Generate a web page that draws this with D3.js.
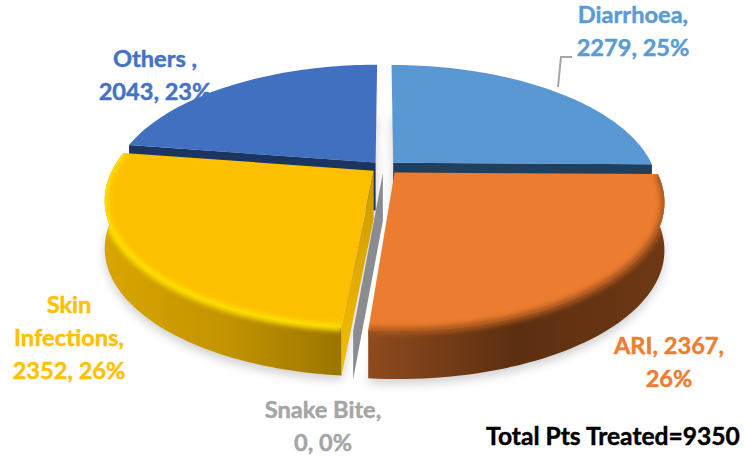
<!DOCTYPE html>
<html>
<head>
<meta charset="utf-8">
<script src="https://cdn.jsdelivr.net/npm/d3@7"></script>
<style>
html, body { margin: 0; padding: 0; background: #fff; }
svg { display: block; }
text { font-family: Lato, "Open Sans", sans-serif; font-weight: 700; stroke-width: 0.45; }
</style>
</head>
<body>
<svg></svg>
<script>
// chart data
var categories = ["Diarrhoea", "ARI", "Snake Bite", "Skin Infections", "Others"];
var values = [2279, 2367, 0, 2352, 2043];
var total = 9350;

// colours, one per category
var faceColors = ["#5A98D4", "#EB7C30", "#A5A5A5", "#FDC000", "#4070BF"];
var labelColors = ["#5B9BD5", "#ED7D31", "#A5A5A5", "#FFC000", "#4472C4"];
var wallColors = ["#1F3F5F", "#7A3E18", "#8A8C90", "#D9A400", "#1C3460"];
var sideStops = [
    ["#2a5478", "#2a5478"],
    ["#8F4A1E", "#5C2F10", "#6E3815"],
    ["#888", "#888"],
    ["#D8A500", "#C49400", "#9A7500"],
    ["#1C3460", "#1C3460"]
];
var bevelColors = [null, "#A9561F", null, "#FFE000", null];
var explode = [0.05, 0.06, 0.05, 0.05, 0.05];

// how the labels break into lines
var labelLines = [
    ["Diarrhoea,", "2279, 25%"],
    ["ARI, 2367,", "26%"],
    ["Snake Bite,", "0, 0%"],
    ["Skin", "Infections,", "2352, 26%"],
    ["Others ,", "2043, 23%"]
];
var labelPos = [[633, 23], [669, 354], [323, 418], [69, 313], [155, 67]];

var width = 744,
    height = 458,
    lineGap = 33,
    depth = 48,
    tilt = 0.22; // near edge is drawn bigger than the far edge

var svg = d3.select("svg")
    .attr("width", width)
    .attr("height", height);

var defs = svg.append("defs");
defs.append("filter").attr("id", "shadow")
    .attr("x", "-10%").attr("y", "-10%").attr("width", "120%").attr("height", "120%")
    .append("feGaussianBlur").attr("stdDeviation", 5);
defs.append("filter").attr("id", "soft")
    .attr("x", "-10%").attr("y", "-10%").attr("width", "120%").attr("height", "120%")
    .append("feGaussianBlur").attr("stdDeviation", 2.4);

var xScale = d3.scaleLinear().domain([-1, 1]).range([384 - 260, 384 + 260]);
var yScale = d3.scaleLinear().domain([-1, 1]).range([167 + 121, 167 - 121]);

// disc coordinates to screen, with a bit of perspective
function project(u, v, drop) {
    var s = 1 / (1 + tilt * v);
    return [xScale(u * s), yScale(v * s) + (drop || 0)];
}

var pie = d3.pie().sort(null).value(function(d) { return d; });
var slices = pie(values).map(function(d, i) {
    var mid = (d.startAngle + d.endAngle) / 2;
    d.i = i;
    d.ou = explode[i] * Math.sin(mid);
    d.ov = explode[i] * Math.cos(mid);
    return d;
});

function rimPoint(d, a, drop) {
    return project(d.ou + Math.sin(a), d.ov + Math.cos(a), drop);
}
function apex(d, drop) {
    return project(d.ou, d.ov, drop);
}
function arcPoints(d, drop) {
    return d3.range(0, 61).map(function(k) {
        return rimPoint(d, d.startAngle + (d.endAngle - d.startAngle) * k / 60, drop);
    });
}

var closedLine = d3.line().curve(d3.curveLinearClosed);
var openLine = d3.line();

function facePath(d, drop) {
    return closedLine([apex(d, drop)].concat(arcPoints(d, drop)));
}
function sidePath(d) {
    return closedLine(arcPoints(d, 0).concat(arcPoints(d, depth).reverse()));
}
function wallPath(d, a) {
    return closedLine([apex(d, 0), rimPoint(d, a, 0), rimPoint(d, a, depth), apex(d, depth)]);
}

// soft ground shadow
svg.append("g").attr("filter", "url(#shadow)").attr("opacity", 0.33)
    .selectAll("path")
    .data(slices.filter(function(d) { return d.value > 0; }))
    .enter().append("path")
    .attr("d", function(d) { return facePath(d, depth + 5); })
    .attr("fill", "#777");

// side gradients
slices.forEach(function(d) {
    var g = defs.append("linearGradient").attr("id", "side" + d.i);
    sideStops[d.i].forEach(function(c, k, all) {
        g.append("stop").attr("offset", k / (all.length - 1)).attr("stop-color", c);
    });
    defs.append("clipPath").attr("id", "clip" + d.i)
        .selectAll("path")
        .data([facePath(d, 0), sidePath(d)])
        .enter().append("path").attr("d", function(p) { return p; });
});
var wallGrad = defs.append("linearGradient").attr("id", "yellowWall")
    .attr("x1", 0).attr("y1", 0).attr("x2", 0).attr("y2", 1);
wallGrad.append("stop").attr("offset", 0).attr("stop-color", "#C99A00");
wallGrad.append("stop").attr("offset", 1).attr("stop-color", "#F7BD00");

// far slices first, the near ones paint over them
var order = [0, 4, 2, 3, 1];
var groups = svg.selectAll("g.slice")
    .data(order.map(function(i) { return slices[i]; }))
    .enter().append("g").attr("class", "slice");

// only the two front slices show their outer side
groups.filter(function(d) { return bevelColors[d.i]; }).append("path")
    .attr("d", sidePath)
    .attr("fill", function(d) { return "url(#side" + d.i + ")"; });

groups.append("path")
    .attr("d", function(d) {
        // the cut face that looks at the viewer
        return wallPath(d, d.i === 0 ? d.endAngle : d.startAngle);
    })
    .attr("fill", function(d) { return d.i === 3 ? "url(#yellowWall)" : wallColors[d.i]; });

groups.filter(function(d) { return d.value > 0; }).append("path")
    .attr("d", function(d) { return facePath(d, 0); })
    .attr("fill", function(d) { return faceColors[d.i]; });

// rounded rim on the two front slices
groups.filter(function(d) { return bevelColors[d.i]; }).append("g")
    .attr("clip-path", function(d) { return "url(#clip" + d.i + ")"; })
    .append("path")
    .attr("d", function(d) { return openLine(arcPoints(d, 0)); })
    .attr("fill", "none")
    .attr("stroke", function(d) { return bevelColors[d.i]; })
    .attr("stroke-width", 7)
    .attr("filter", "url(#soft)");

// leader line of the Diarrhoea label
svg.append("path")
    .attr("d", openLine([[558, 87], [561, 57], [572, 57]]))
    .attr("fill", "none")
    .attr("stroke", "#A6A6A6")
    .attr("stroke-width", 2);

// data labels
var labels = svg.selectAll("text.label")
    .data(categories)
    .enter().append("text")
    .attr("class", "label")
    .attr("text-anchor", "middle")
    .attr("font-size", 23.6)
    .attr("fill", function(d, i) { return labelColors[i]; })
    .attr("stroke", function(d, i) { return labelColors[i]; });

labels.selectAll("tspan")
    .data(function(d, i) {
        return labelLines[i].map(function(t, k) { return {t: t, k: k, i: i}; });
    })
    .enter().append("tspan")
    .attr("x", function(d) { return labelPos[d.i][0]; })
    .attr("y", function(d) { return labelPos[d.i][1] + d.k * lineGap; })
    .text(function(d) { return d.t; });

svg.append("text")
    .attr("x", 613)
    .attr("y", 445)
    .attr("text-anchor", "middle")
    .attr("font-size", 24.6)
    .attr("fill", "#000")
    .attr("stroke", "#000")
    .text("Total Pts Treated=" + total);
</script>
</body>
</html>
